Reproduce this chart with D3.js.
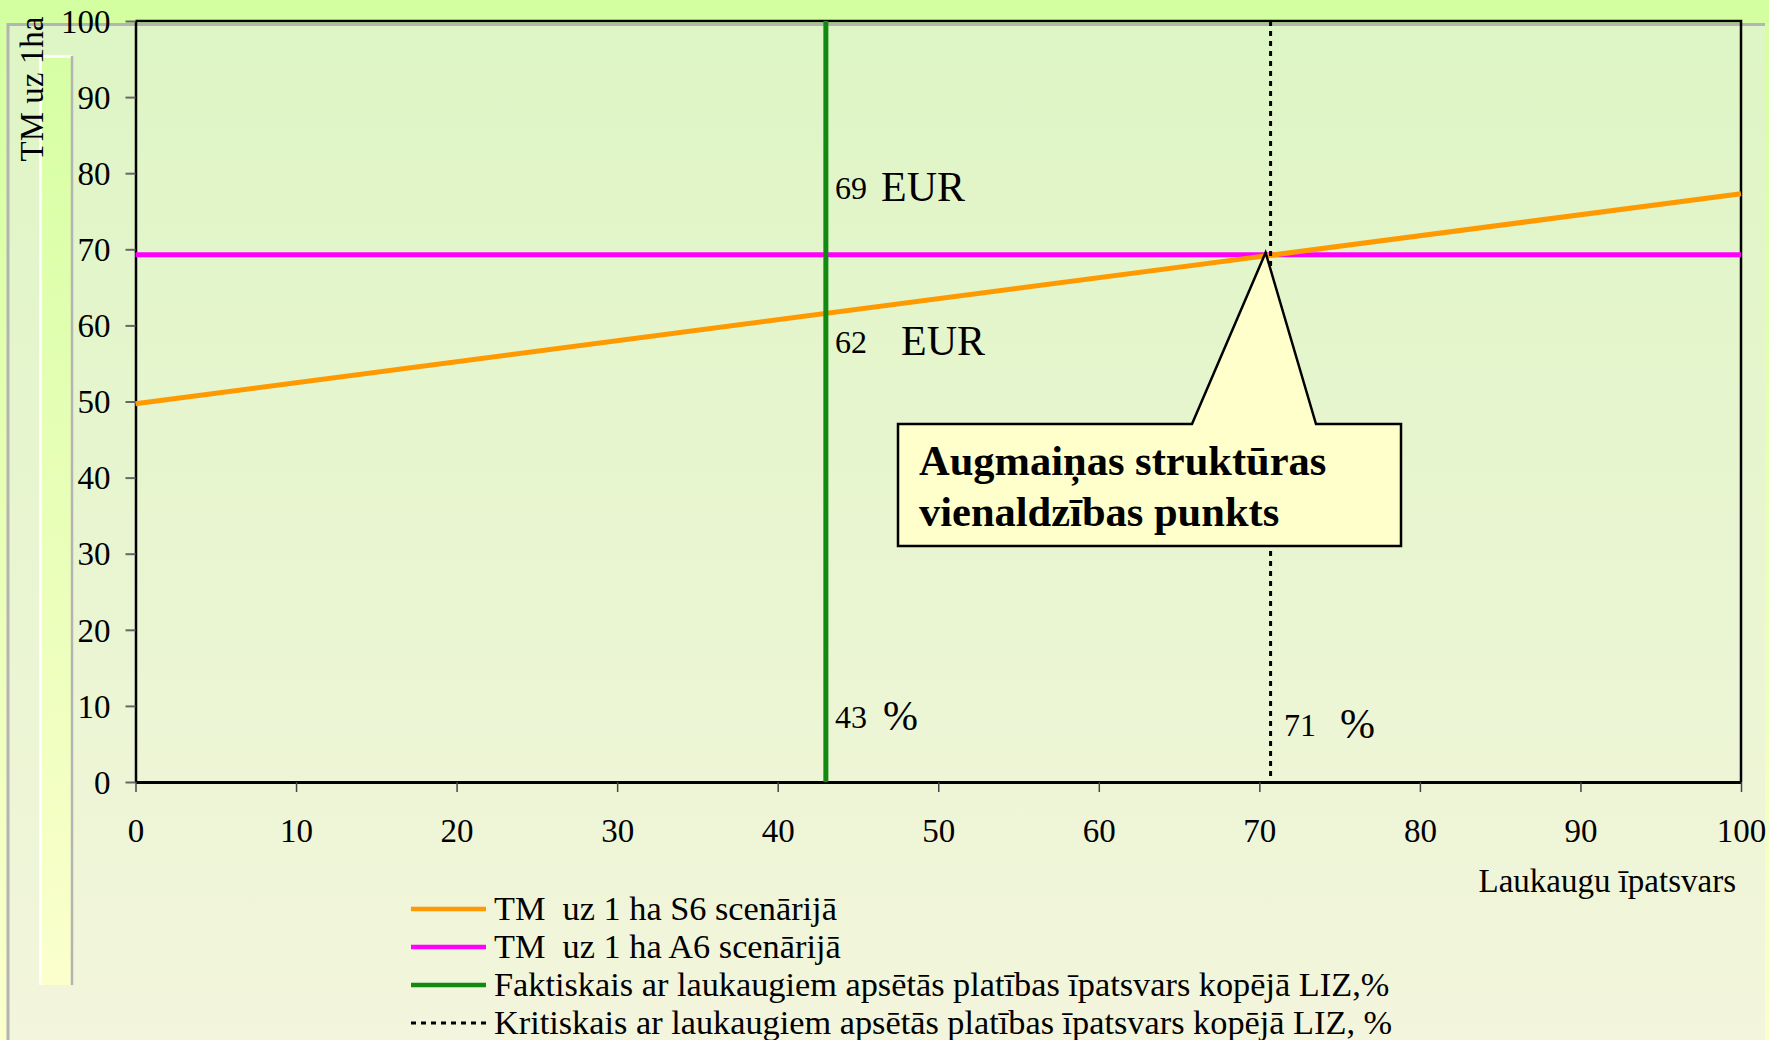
<!DOCTYPE html>
<html>
<head>
<meta charset="utf-8">
<script src="https://cdn.jsdelivr.net/npm/d3@7/dist/d3.min.js"></script>
<style>
  html, body { margin: 0; padding: 0; background: #f6fbd6; }
  svg { display: block; font-family: "Liberation Serif", "Times New Roman", serif; }
</style>
</head>
<body>
<svg id="chart" width="1769" height="1040"></svg>
<script>
// --- dati ---
const laukaugiX = [0, 100];
const tmS6 = [49.7, 77.3];
const tmA6 = [69.3, 69.3];
const faktiskais = 43;
const kritiskais = 70.7;
const xTicks = [0, 10, 20, 30, 40, 50, 60, 70, 80, 90, 100];
const yTicks = [0, 10, 20, 30, 40, 50, 60, 70, 80, 90, 100];
const legendLabels = [
  "TM  uz 1 ha S6 scenārijā",
  "TM  uz 1 ha A6 scenārijā",
  "Faktiskais ar laukaugiem apsētās platības īpatsvars kopējā LIZ,%",
  "Kritiskais ar laukaugiem apsētās platības īpatsvars kopējā LIZ, %"
];
const calloutLines = ["Augmaiņas struktūras", "vienaldzības punkts"];

const svg = d3.select("#chart");
const W = 1769, H = 1040;

const x = d3.scaleLinear().domain([0, 100]).range([135.5, 1741]);
const y = d3.scaleLinear().domain([0, 100]).range([782, 21]);

// --- fons ---
const defs = svg.append("defs");
const gOuter = defs.append("linearGradient").attr("id", "gOuter").attr("x1", 0).attr("y1", 0).attr("x2", 0).attr("y2", 1);
gOuter.append("stop").attr("offset", "0%").attr("stop-color", "#d4ffa0");
gOuter.append("stop").attr("offset", "100%").attr("stop-color", "#fbffcc");
const gPanel = defs.append("linearGradient").attr("id", "gPanel").attr("x1", 0).attr("y1", 0).attr("x2", 0).attr("y2", 1);
gPanel.append("stop").attr("offset", "0%").attr("stop-color", "#def5c5");
gPanel.append("stop").attr("offset", "100%").attr("stop-color", "#f3f5dc");
const gStrip = defs.append("linearGradient").attr("id", "gStrip").attr("x1", 0).attr("y1", 0).attr("x2", 0).attr("y2", 1);
gStrip.append("stop").attr("offset", "0%").attr("stop-color", "#d6ffa4");
gStrip.append("stop").attr("offset", "100%").attr("stop-color", "#fbffcc");

svg.append("rect").attr("width", W).attr("height", H).attr("fill", "url(#gOuter)");
svg.append("rect").attr("x", 0).attr("y", 0).attr("width", W).attr("height", 22).attr("fill", "#d4ffa0");
svg.append("rect").attr("x", 8).attr("y", 24).attr("width", 1757).attr("height", H - 24)
  .attr("fill", "url(#gPanel)");
svg.append("path").attr("d", `M8,${H} V24.5 H1765`).attr("fill", "none")
  .attr("stroke", "#b4b4b4").attr("stroke-width", 3);

// kreisā josla
svg.append("rect").attr("x", 40).attr("y", 56).attr("width", 32).attr("height", 929).attr("fill", "url(#gStrip)");
svg.append("path").attr("d", "M40.5,985 V56.5 H72").attr("fill", "none").attr("stroke", "#ffffff").attr("stroke-width", 2.5);
svg.append("path").attr("d", "M72,56 V985").attr("fill", "none").attr("stroke", "#b4b4b4").attr("stroke-width", 2.5);

// --- asis ---
const yAxis = svg.append("g").attr("transform", `translate(${x(0)},0)`)
  .call(d3.axisLeft(y).tickValues(yTicks).tickSize(10).tickSizeOuter(0).tickPadding(15));
yAxis.select(".domain").attr("stroke", "#000").attr("stroke-width", 2.5);
yAxis.selectAll(".tick line").attr("stroke", "#666").attr("stroke-width", 2);
yAxis.selectAll(".tick text").attr("font-size", 33).attr("fill", "#000")
  .attr("font-family", "Liberation Serif").attr("dy", "0.34em");

const xAxis = svg.append("g").attr("transform", `translate(0,${y(0)})`)
  .call(d3.axisBottom(x).tickValues(xTicks).tickSize(10).tickSizeOuter(0));
xAxis.select(".domain").attr("stroke", "#000").attr("stroke-width", 3);
xAxis.selectAll(".tick line").attr("stroke", "#444").attr("stroke-width", 1.5);
xAxis.selectAll(".tick text").attr("font-size", 33).attr("fill", "#000")
  .attr("font-family", "Liberation Serif").attr("y", 60).attr("dy", null);

// augšējā un labā robeža
svg.append("path").attr("d", `M${x(0)},${y(100)} H${x(100)} V${y(0)}`)
  .attr("fill", "none").attr("stroke", "#000").attr("stroke-width", 2.5);

// asu nosaukumi
svg.append("text").attr("transform", "translate(43,89) rotate(-90)")
  .attr("text-anchor", "middle").attr("font-size", 33).text("TM uz 1ha");
svg.append("text").attr("x", 1736).attr("y", 892).attr("text-anchor", "end")
  .attr("font-size", 33).text("Laukaugu īpatsvars");

// --- līnijas ---
const line = d3.line().x(d => x(d[0])).y(d => y(d[1]));
svg.append("path").datum(d3.zip(laukaugiX, tmA6)).attr("d", line)
  .attr("fill", "none").attr("stroke", "#ff00ff").attr("stroke-width", 5);
svg.append("path").datum(d3.zip(laukaugiX, tmS6)).attr("d", line)
  .attr("fill", "none").attr("stroke", "#ff9900").attr("stroke-width", 5);
svg.append("line").attr("x1", x(faktiskais)).attr("x2", x(faktiskais))
  .attr("y1", y(100)).attr("y2", y(0)).attr("stroke", "#118a11").attr("stroke-width", 5);
svg.append("line").attr("x1", x(kritiskais)).attr("x2", x(kritiskais))
  .attr("y1", y(100)).attr("y2", y(0)).attr("stroke", "#000").attr("stroke-width", 3)
  .attr("stroke-dasharray", "5,5");

// --- anotācijas ---
const tmA6at43 = Math.round(tmA6[0]);
const tmS6at43 = Math.round(tmS6[0] + (tmS6[1] - tmS6[0]) * faktiskais / 100);
const annotations = [
  { num: String(tmA6at43), unit: "EUR", x: 835, y: 199, ux: 881 },
  { num: String(tmS6at43), unit: "EUR", x: 835, y: 353, ux: 901 },
  { num: String(faktiskais), unit: "%", x: 835, y: 728, ux: 883 },
  { num: String(Math.round(kritiskais)), unit: "%", x: 1284, y: 736, ux: 1340 }
];
annotations.forEach(a => {
  svg.append("text").attr("x", a.x).attr("y", a.y).attr("font-size", 32).text(a.num);
  svg.append("text").attr("x", a.ux).attr("y", a.y + 2).attr("font-size", 42).text(a.unit);
});

// --- izsaukuma lodziņš ---
const tipX = x(kritiskais) - 5, tipY = y(tmA6[0]) - 2;
const bx0 = 898, by0 = 424, bx1 = 1401, by1 = 546;
svg.append("path")
  .attr("d", `M${bx0},${by0} H1192 L${tipX},${tipY} L1316,${by0} H${bx1} V${by1} H${bx0} Z`)
  .attr("fill", "#ffffcc").attr("stroke", "#000").attr("stroke-width", 2.5).attr("stroke-linejoin", "miter");
calloutLines.forEach((t, i) => {
  svg.append("text").attr("x", 919).attr("y", 475 + i * 51).attr("font-size", 42.5)
    .attr("font-weight", "bold").text(t);
});

// --- leģenda ---
const legendColors = ["#ff9900", "#ff00ff", "#118a11", "#000"];
const legendY = d3.scaleLinear().domain([0, 3]).range([909, 1023]);
legendLabels.forEach((t, i) => {
  const g = svg.append("g");
  g.append("line").attr("x1", 411).attr("x2", 486).attr("y1", legendY(i)).attr("y2", legendY(i))
    .attr("stroke", legendColors[i]).attr("stroke-width", i === 3 ? 3 : 4.5)
    .attr("stroke-dasharray", i === 3 ? "5,5" : null);
  g.append("text").attr("x", 494).attr("y", legendY(i) + 11).attr("font-size", 34.3)
    .attr("xml:space", "preserve").style("white-space", "pre").text(t);
});
</script>
</body>
</html>
